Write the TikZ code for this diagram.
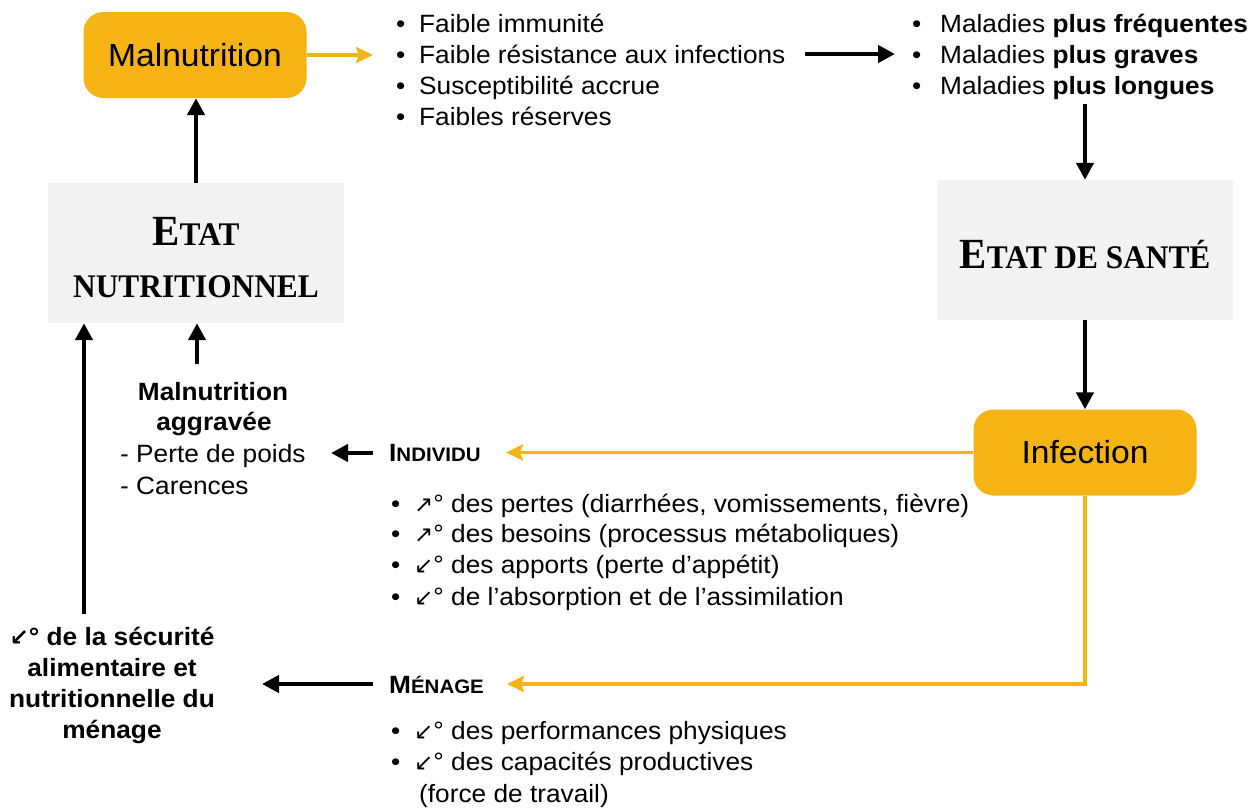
\documentclass[tikz,border=0pt]{standalone}
\usepackage{fontspec}
\setmainfont{Liberation Sans}[FakeStretch=1.05]
\newfontfamily\serifb{Liberation Serif}[FakeStretch=0.95]
\newfontfamily\symf{DejaVu Sans}
\usetikzlibrary{arrows.meta}
\definecolor{orng}{RGB}{246,180,20}
\definecolor{grayf}{RGB}{242,242,242}
\newcommand{\arrup}{{\symf\fontsize{23}{23}\selectfont ↗}}
\newcommand{\arrdn}{{\symf\fontsize{23}{23}\selectfont ↙}}
\newcommand{\arrdnb}{{\symf\bfseries\fontsize{23}{23}\selectfont ↙}}
\newcommand{\fsc}[2]{{\fontsize{25}{31}\selectfont #1}{\fontsize{19.5}{31}\selectfont #2}}
\newcommand{\ssc}[2]{{\serifb\bfseries\fontsize{43}{50}\selectfont #1}{\serifb\bfseries\fontsize{33}{50}\selectfont #2}}
\newcommand{\bul}{\makebox[23pt][l]{•}}
\begin{document}
\begin{tikzpicture}[x=1pt,y=-1pt,
  txt/.style={inner sep=0pt, anchor=base west, font=\fontsize{25}{31}\selectfont},
  ctxt/.style={inner sep=0pt, anchor=base, font=\fontsize{25}{31}\selectfont},
  orangebox/.style={rounded corners=20pt, fill=orng, minimum width=223pt, minimum height=86pt, inner sep=0pt, font=\fontsize{32}{36}\selectfont},
  graybox/.style={fill=grayf, minimum width=296pt, minimum height=140pt, inner sep=0pt},
  blk/.style={line width=4.5pt, -{Triangle[length=17pt,width=17pt]}},
  org/.style={draw=orng, line width=3.5pt, -{Stealth[length=17pt,width=16pt,inset=3pt]}}
]
\useasboundingbox (0,0) rectangle (1256,807);

% boxes
\node[orangebox] (maln) at (195,55) {Malnutrition};
\node[orangebox] (inf) at (1085,452.5) {Infection};
\node[graybox] (etatn) at (196,253) {};
\node[graybox] (etats) at (1085,250) {};
\node[inner sep=0pt, anchor=base] (etatnA) at (196,245) {\ssc{E}{TAT}};
\node[inner sep=0pt, anchor=base] (etatnB) at (196,297) {\ssc{}{NUTRITIONNEL}};
\node[inner sep=0pt, anchor=base] (etatsA) at (1085,268) {\ssc{E}{TAT DE SANTÉ}};

% list 1
\node[txt] (l1a) at (396,32) {\bul Faible immunité};
\node[txt] (l1b) at (396,63.5) {\bul Faible résistance aux infections};
\node[txt] (l1c) at (396,94.5) {\bul Susceptibilité accrue};
\node[txt] (l1d) at (396,125.5) {\bul Faibles réserves};

% list 2
\node[txt] (l2a) at (912,32.5) {\makebox[28pt][l]{•}Maladies \textbf{plus fréquentes}};
\node[txt] (l2b) at (912,63.5) {\makebox[28pt][l]{•}Maladies \textbf{plus graves}};
\node[txt] (l2c) at (912,94) {\makebox[28pt][l]{•}Maladies \textbf{plus longues}};

% malnutrition aggravee
\node[ctxt, font=\fontsize{25}{31}\selectfont\bfseries] (ma1) at (213,400) {Malnutrition};
\node[ctxt, font=\fontsize{25}{31}\selectfont\bfseries] (ma2) at (214,430) {aggravée};
\node[txt] (ma3) at (120,462) {- Perte de poids};
\node[txt] (ma4) at (120,494) {- Carences};

% individu
\node[txt, font=\bfseries] (indiv) at (389,461) {\fsc{I}{NDIVIDU}};
\node[txt] (l3a) at (391,512) {\bul\arrup° des pertes (diarrhées, vomissements, fièvre)};
\node[txt] (l3b) at (391,542.5) {\bul\arrup° des besoins (processus métaboliques)};
\node[txt] (l3c) at (391,573.5) {\bul\arrdn° des apports (perte d’appétit)};
\node[txt] (l3d) at (391,605) {\bul\arrdn° de l’absorption et de l’assimilation};

% menage
\node[txt, font=\bfseries] (men) at (389,693) {\fsc{M}{ÉNAGE}};
\node[txt] (l4a) at (391,739.5) {\bul\arrdn° des performances physiques};
\node[txt] (l4b) at (391,770.5) {\bul\arrdn° des capacités productives};
\node[txt] (l4c) at (419,802) {(force de travail)};

% securite
\node[ctxt, font=\fontsize{25}{31}\selectfont\bfseries] (s1) at (112,645) {\arrdnb° de la sécurité};
\node[ctxt, font=\fontsize{25}{31}\selectfont\bfseries] (s2) at (112,676) {alimentaire et};
\node[ctxt, font=\fontsize{25}{31}\selectfont\bfseries] (s3) at (112,707.5) {nutritionnelle du};
\node[ctxt, font=\fontsize{25}{31}\selectfont\bfseries] (s4) at (112,738) {ménage};

% connector end points
\coordinate (o1e) at (373,55);
\coordinate (b1s) at (805,54);
\coordinate (b1e) at (895,54);
\coordinate (b2s) at (1085,104);
\coordinate (o2e) at (506,452.5);
\coordinate (o3e) at (507,684);
\coordinate (b3s) at (373,453);
\coordinate (b3e) at (331,453);
\coordinate (b4s) at (373,684);
\coordinate (b4e) at (262,684);
\coordinate (b5s) at (84,614);
\coordinate (b6s) at (197,364);

% connectors
\draw[org] (maln.east) -- (o1e);
\draw[blk] (b1s) -- (b1e);
\draw[blk] (b2s) -- (etats.north);
\draw[blk] (etats.south) -- (inf.north);
\draw[org] (inf.west) -- (o2e);
\draw[org] (inf.south) |- (o3e);
\draw[blk] (b3s) -- (b3e);
\draw[blk] (b4s) -- (b4e);
\draw[blk] (b5s) -- (b5s |- etatn.south);
\draw[blk] (b6s) -- (b6s |- etatn.south);
\draw[blk] (etatn.north) -- (etatn.north |- maln.south);
\end{tikzpicture}
\end{document}
